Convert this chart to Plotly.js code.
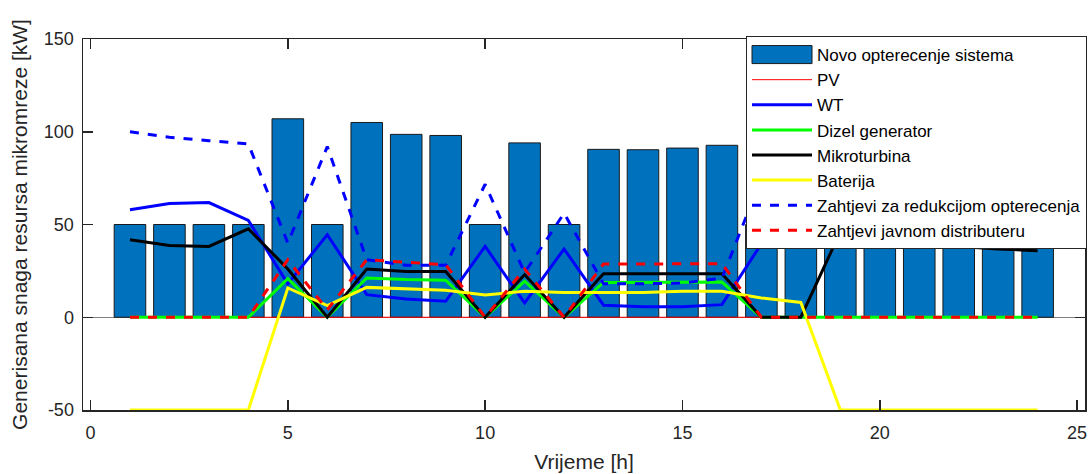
<!DOCTYPE html>
<html>
<head>
<meta charset="utf-8">
<script src="https://cdn.plot.ly/plotly-3.0.1.min.js"></script>
<style>html,body{margin:0;padding:0;background:#fff;}#chart{width:1091px;height:474px;}</style>
</head>
<body>
<div id="chart"></div>
<script>
const hours = [1,2,3,4,5,6,7,8,9,10,11,12,13,14,15,16,17,18,19,20,21,22,23,24];
const novoOpterecenje = [50,50,50,50,107,50,105,98.6,98,50,94,50,90.5,90.3,91.2,92.7,50,50,50,50,50,50,50,50];
const pv = [0,0,0,0,0,0,0,0,0,0,0,0,0,0,0,0,0,0,0,0,0,0,0,0];
const wt = [58,61.3,61.8,52.2,18,44.5,12.2,9.9,8.6,38.2,7.7,36.8,6.5,5.6,5.6,6.8,39.6,42.7,48,52,55,57,58,58];
const dizel = [0,0,0,0,20.8,0,21.2,20.3,20,0,19.4,0,18.8,18.8,18.8,19,0,0,0,0,0,0,0,0];
const mikroturbina = [41.8,38.7,38.2,47.7,26,0,26,24.7,24.7,0,23,0,23.5,23.5,23.5,23.5,0,0,46,44,41,38.2,36.8,35.9];
const baterija = [-50,-50,-50,-50,15.8,6.3,16.1,15.3,14.5,12,14,13.4,13.4,13.4,14,14,10.4,8,-50,-50,-50,-50,-50,-50];
const zahtjeviRedukcija = [100,97,95.2,93.4,40,92,31,28,28,71.7,24,56.1,18,18,18.5,21,75,85,90,95,97,98,100,100];
const zahtjeviDistributer = [0,0,0,0,31,4,31,29.8,28.3,0,26,0,28.7,28.7,28.9,28.9,0,0,0,0,0,0,0,0];
const names = ['Novo opterecenje sistema','PV','WT','Dizel generator','Mikroturbina','Baterija','Zahtjevi za redukcijom opterecenja','Zahtjevi javnom distributeru'];
const xTicks = [0,5,10,15,20,25];
const yTicks = [-50,0,50,100,150];

const FONT = 'Liberation Sans, Arial, sans-serif';

const traces = [
  {type:'bar', x:hours, y:novoOpterecenje, name:names[0], width:0.8,
   marker:{color:'#0072BD', line:{color:'#1a1a1a', width:1}}},
  {type:'scatter', mode:'lines', x:hours, y:pv, name:names[1], line:{color:'#FF0000', width:1}},
  {type:'scatter', mode:'lines', x:hours, y:wt, name:names[2], line:{color:'#0000FF', width:3}},
  {type:'scatter', mode:'lines', x:hours, y:dizel, name:names[3], line:{color:'#00FF00', width:3}},
  {type:'scatter', mode:'lines', x:hours, y:mikroturbina, name:names[4], line:{color:'#000000', width:3}},
  {type:'scatter', mode:'lines', x:hours, y:baterija, name:names[5], line:{color:'#FFFF00', width:3}},
  {type:'scatter', mode:'lines', x:hours, y:zahtjeviRedukcija, name:names[6], line:{color:'#0000FF', width:3, dash:'dash'}},
  {type:'scatter', mode:'lines', x:hours, y:zahtjeviDistributer, name:names[7], line:{color:'#FF0000', width:3, dash:'dash'}}
];

const axisCommon = {
  showgrid:false, showline:true, linecolor:'#262626', linewidth:1.5, mirror:'allticks',
  ticks:'inside', ticklen:10, tickwidth:1.5, tickcolor:'#262626',
  tickfont:{family:FONT, size:18, color:'#262626'}
};

const layout = {
  width:1091, height:474,
  margin:{l:83, r:5, t:39, b:64},
  paper_bgcolor:'#fff', plot_bgcolor:'#fff',
  showlegend:true,
  bargap:0.2,
  xaxis:Object.assign({}, axisCommon, {
    range:[-0.19, 25.2], tickmode:'array', tickvals:xTicks, ticktext:xTicks.map(String),
    zeroline:false, ticklabelstandoff:6,
    title:{text:'Vrijeme [h]', font:{family:FONT, size:21, color:'#262626'}, standoff:12}
  }),
  yaxis:Object.assign({}, axisCommon, {
    range:[-50, 150], tickmode:'array', tickvals:yTicks, ticktext:yTicks.map(String),
    zeroline:true, zerolinecolor:'#808080', zerolinewidth:1, ticklabelstandoff:4,
    title:{text:'Generisana snaga resursa mikromreze [kW]', font:{family:FONT, size:21, color:'#262626'}, standoff:10}
  }),
  legend:{
    x:1.001, xanchor:'right', y:1.008, yanchor:'top',
    bgcolor:'#fff', bordercolor:'#262626', borderwidth:1,
    font:{family:FONT, size:17, color:'#000'},
    itemwidth:60, entrywidth:355, entrywidthmode:'pixels'
  }
};

function widenBarSymbol(gd){
  const pts = gd.querySelectorAll('.legend .traces');
  if (pts.length) {
    const p = pts[0].querySelector('.legendpoints path');
    if (p) p.setAttribute('d','M30,9H-30V-9H30Z');
  }
}

Plotly.newPlot('chart', traces, layout, {displayModeBar:false, staticPlot:true}).then(function(gd){
  widenBarSymbol(gd);
  gd.on('plotly_afterplot', function(){ widenBarSymbol(gd); });
});
</script>
</body>
</html>
